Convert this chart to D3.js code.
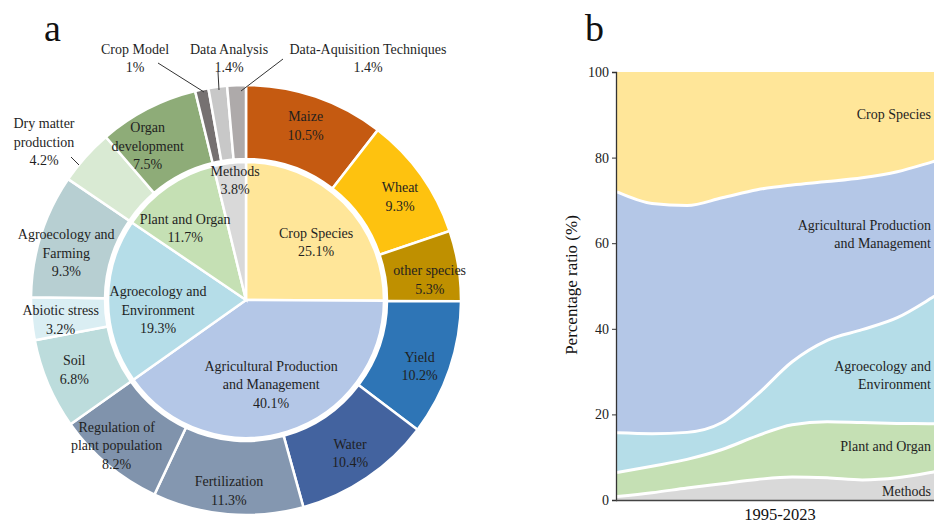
<!DOCTYPE html>
<html>
<head>
<meta charset="utf-8">
<script src="https://cdn.jsdelivr.net/npm/d3@7"></script>
<style>
  html, body { margin: 0; padding: 0; background: #fff; }
  svg { display: block; font-family: "Liberation Serif", "Times New Roman", serif; }
</style>
</head>
<body>
<svg id="chart" width="934" height="525"></svg>
<script>
// ---- Panel a: research topics (inner ring = groups, outer ring = sub-topics) ----
const groups = ["Crop Species", "Agricultural Production and Management", "Agroecology and Environment", "Plant and Organ", "Methods"];
const groupShares = [25.1, 40.1, 19.3, 11.7, 3.8];
const groupColors = ["#FFE699", "#B4C7E7", "#B5DDE8", "#C5E0B4", "#D9D9D9"];

const topics = ["Maize", "Wheat", "other species",
                "Yield", "Water", "Fertilization", "Regulation of plant population",
                "Soil", "Abiotic stress", "Agroecology and Farming",
                "Dry matter production", "Organ development",
                "Crop Model", "Data Analysis", "Data-Aquisition Techniques"];
const topicShares = [10.5, 9.3, 5.3, 10.2, 10.4, 11.3, 8.2, 6.8, 3.2, 9.3, 4.2, 7.5, 1, 1.4, 1.4];
const topicColors = ["#C55A11", "#FEC20F", "#BF9000",
                     "#2E75B6", "#43639F", "#8497B0", "#8093AC",
                     "#BCDCDC", "#DAEEF3", "#B7CFD2",
                     "#D9EAD3", "#8EAC78",
                     "#767171", "#C8C8C8", "#AEAAAA"];

// ---- Panel b: yearly share of each group (stacked, %) ----
const years        = [1995, 1998, 2001, 2004, 2007, 2010, 2013, 2016, 2019, 2022, 2023];
const methodsShare = [0.8, 1.7, 2.8, 3.8, 4.8, 5.4, 5.2, 4.7, 5.2, 6.5, 7.0];
const plantShare   = [5.6, 6.2, 6.7, 8.0, 10.2, 12.2, 13.1, 13.4, 12.7, 11.3, 10.7];
const agroShare    = [9.3, 7.6, 6.3, 6.3, 9.6, 14.7, 19.0, 21.7, 24.7, 29.5, 31.3];
const prodShare    = [56.3, 53.8, 53.0, 52.5, 47.9, 41.3, 37.1, 35.5, 34.1, 31.7, 30.8];
const cropShare    = [28.0, 30.7, 31.2, 29.4, 27.5, 26.4, 25.6, 24.7, 23.3, 21.0, 20.2];
const yTicks = [0, 20, 40, 60, 80, 100];

// text lines for labels
const lines = {
  "Crop Species": ["Crop Species"],
  "Agricultural Production and Management": ["Agricultural Production", "and Management"],
  "Agroecology and Environment": ["Agroecology and", "Environment"],
  "Plant and Organ": ["Plant and Organ"],
  "Methods": ["Methods"],
  "Regulation of plant population": ["Regulation of", "plant population"],
  "Agroecology and Farming": ["Agroecology and", "Farming"],
  "Dry matter production": ["Dry matter", "production"],
  "Organ development": ["Organ", "development"]
};

const svg = d3.select("#chart");
const txt = "#1f1f1f";
const fmt = v => v + "%";

// ---------- Panel a ----------
const cx = 246, cy = 300;
const g = svg.append("g").attr("transform", `translate(${cx},${cy})`);
const pie = d3.pie().sort(null).value(d => d.v);

const innerData = pie(groups.map((n, i) => ({ n, v: groupShares[i], c: groupColors[i] })));
const outerData = pie(topics.map((n, i) => ({ n, v: topicShares[i], c: topicColors[i] })));

const innerArc = d3.arc().innerRadius(0).outerRadius(138);
const outerArc = d3.arc().innerRadius(141).outerRadius(215);

g.selectAll("path.outer").data(outerData).join("path")
  .attr("class", "outer").attr("d", outerArc)
  .attr("fill", d => d.data.c).attr("stroke", "#fff").attr("stroke-width", 2.5);
g.selectAll("path.inner").data(innerData).join("path")
  .attr("class", "inner").attr("d", innerArc)
  .attr("fill", d => d.data.c).attr("stroke", "#fff").attr("stroke-width", 2.5);

// label placement: centroid at a radius, plus a small nudge
const outerLabelArc = d3.arc().innerRadius(178).outerRadius(178);
const outerNudge = {
  "Maize": [2, -6], "Wheat": [9, 0], "other species": [8, 8], "Yield": [5, 9],
  "Water": [4, 6], "Fertilization": [-2, 13], "Regulation of plant population": [-15, 9],
  "Soil": [-8, 0], "Abiotic stress": [-8, 4], "Agroecology and Farming": [-10, 6],
  "Organ development": [-17, 4]
};
const innerPlace = { // [radius, angle in degrees clockwise from top]
  "Crop Species": [91, 50.4], "Agricultural Production and Management": [88, 163.4],
  "Agroecology and Environment": [88.6, 263.5], "Plant and Organ": [94, 319.7],
  "Methods": [120.5, 354.8]
};
// outside labels with leader lines: [label centre, line from, line to]
const outside = {
  "Dry matter production": [[44, 142], [71, 157], [79, 165]],
  "Crop Model": [[135, 58], [158, 63], [204, 92]],
  "Data Analysis": [[229, 58], [218, 72], [219, 90]],
  "Data-Aquisition Techniques": [[368, 58], [283, 59], [241, 91]]
};

const LH = 18.5;
function block(parent, x, y, textLines, anchor) {
  const t = parent.append("text")
    .attr("x", x).attr("y", y - (textLines.length - 1) * LH / 2)
    .attr("text-anchor", anchor || "middle")
    .attr("font-size", 14).attr("fill", txt);
  textLines.forEach((s, i) => {
    t.append("tspan").attr("x", x).attr("dy", i === 0 ? "0.35em" : LH).text(s);
  });
  return t;
}

outerData.forEach(d => {
  const name = d.data.n;
  const ls = (lines[name] || [name]).concat([fmt(d.data.v)]);
  if (outside[name]) {
    const [c, a, b] = outside[name];
    svg.append("line")
      .attr("x1", a[0]).attr("y1", a[1]).attr("x2", b[0]).attr("y2", b[1])
      .attr("stroke", "#333").attr("stroke-width", 1);
    block(svg, c[0], c[1], ls);
  } else {
    const [x, y] = outerLabelArc.centroid(d);
    const nd = outerNudge[name] || [0, 0];
    block(g, x + nd[0], y + nd[1], ls);
  }
});

innerData.forEach(d => {
  const name = d.data.n;
  const ls = (lines[name] || [name]).concat([fmt(d.data.v)]);
  const [r, deg] = innerPlace[name];
  const a = deg * Math.PI / 180;
  block(g, r * Math.sin(a), -r * Math.cos(a), ls);
});

svg.append("text").attr("x", 44).attr("y", 41).attr("font-size", 38).attr("fill", "#111").text("a");

// ---------- Panel b ----------
svg.append("text").attr("x", 585).attr("y", 41).attr("font-size", 38).attr("fill", "#111").text("b");

const x0 = 616, x1 = 944, yTop = 72, yBot = 500;
const x = d3.scaleLinear().domain([years[0], years[years.length - 1]]).range([x0 + 1, x1]);
const y = d3.scaleLinear().domain([0, 100]).range([yBot, yTop]);

const keys = ["Methods", "Plant and Organ", "Agroecology and Environment", "Agricultural Production and Management", "Crop Species"];
const series = [methodsShare, plantShare, agroShare, prodShare, cropShare];
const colorOf = Object.fromEntries(groups.map((n, i) => [n, groupColors[i]]));
const rows = years.map((yr, i) => {
  const r = { year: yr };
  keys.forEach((k, j) => r[k] = series[j][i]);
  return r;
});
const stacked = d3.stack().keys(keys)(rows);

const area = d3.area().curve(d3.curveMonotoneX)
  .x(d => x(d.data.year)).y0(d => y(d[0])).y1(d => y(d[1]));
const topLine = d3.line().curve(d3.curveMonotoneX)
  .x(d => x(d.data.year)).y(d => y(d[1]));

svg.append("clipPath").attr("id", "plot")
  .append("rect").attr("x", x0 + 1).attr("y", yTop).attr("width", x1 - x0).attr("height", yBot - yTop);
const pg = svg.append("g").attr("clip-path", "url(#plot)");
pg.selectAll("path.layer").data(stacked).join("path")
  .attr("class", "layer").attr("d", area).attr("fill", d => colorOf[d.key]);
pg.selectAll("path.edge").data(stacked.slice(0, -1)).join("path")
  .attr("class", "edge").attr("d", topLine)
  .attr("fill", "none").attr("stroke", "#fff").attr("stroke-width", 3);

// axes
const yAxis = d3.axisLeft(y).tickValues(yTicks).tickSize(4).tickPadding(3);
const ya = svg.append("g").attr("transform", `translate(${x0},0)`).call(yAxis);
ya.select(".domain").attr("stroke", "#333").attr("stroke-width", 1.3);
ya.selectAll(".tick line").attr("stroke", "#333");
ya.selectAll(".tick text").attr("font-family", "Liberation Serif, serif").attr("font-size", 14).attr("fill", "#222");

svg.append("line").attr("x1", x0).attr("x2", 934).attr("y1", yBot + 0.5).attr("y2", yBot + 0.5)
  .attr("stroke", "#444").attr("stroke-width", 1.6);

svg.append("text").attr("x", 780).attr("y", 520).attr("text-anchor", "middle")
  .attr("font-size", 16.5).attr("fill", "#111").text("1995-2023");
svg.append("text").attr("transform", "translate(577,285) rotate(-90)").attr("text-anchor", "middle")
  .attr("font-size", 17).attr("fill", "#111").text("Percentage ratio (%)");

// stream labels, right aligned near the last year
const streamLabelAt = { "Crop Species": 90.2, "Agricultural Production and Management": 62.1,
  "Agroecology and Environment": 29.2, "Plant and Organ": 12.6, "Methods": 2.1 };
keys.forEach(k => {
  block(svg, 931, y(streamLabelAt[k]), lines[k] || [k], "end");
});
</script>
</body>
</html>
